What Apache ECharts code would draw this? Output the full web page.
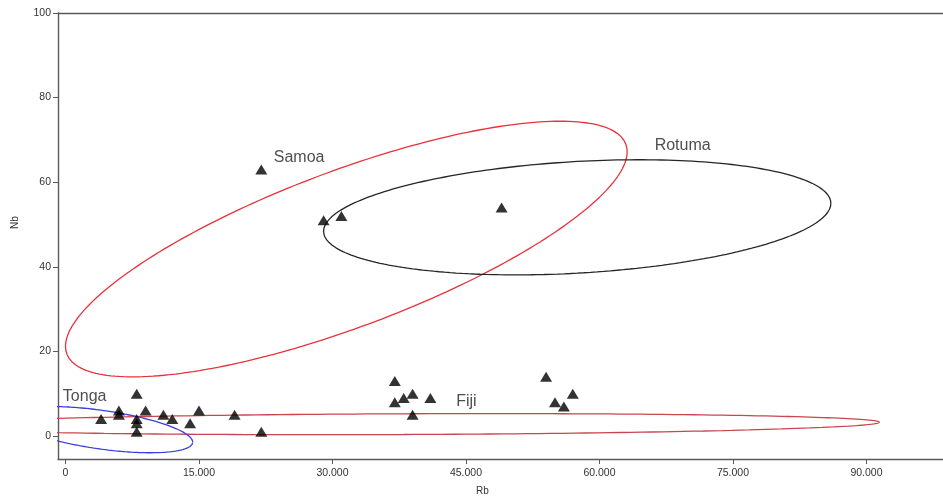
<!DOCTYPE html>
<html>
<head>
<meta charset="utf-8">
<script src="https://cdn.jsdelivr.net/npm/echarts@6/dist/echarts.min.js"></script>
<style>
html,body{margin:0;padding:0;background:#fff;}
#chart{width:943px;height:499px;}
</style>
</head>
<body>
<div id="chart"></div>
<script>
// ---- data ----
const rbValues = [4000, 6000, 6000, 8000, 8000, 8000, 8000, 9000, 11000, 12000, 14000, 15000, 19000, 22000,
                  37000, 37000, 38000, 39000, 39000, 41000, 54000, 55000, 56000, 57000,
                  22000, 29000, 31000, 49000];
const nbValues = [4, 5, 6, 10, 4, 3, 1, 6, 5, 4, 3, 6, 5, 1,
                  13, 8, 9, 10, 5, 9, 14, 8, 7, 10,
                  63, 51, 52, 54];

const xTicks = [0, 15000, 30000, 45000, 60000, 75000, 90000];
const yTicks = [0, 20, 40, 60, 80, 100];

// ellipses: centre, first conjugate semi-axis, second conjugate semi-axis (data units)
const ellipseNames   = ['Samoa', 'Rotuma', 'Fiji', 'Tonga'];
const ellipseCenterRb = [31555, 57500, 38000, 4000];
const ellipseCenterNb = [44.2, 51.7, 2.8, 1.5];
const ellipseURb      = [31555, 28500, 53500, 10300];
const ellipseUNb      = [23.0, 3.3, 0.45, -2.95];
const ellipseVRb      = [0, 0, 0, 0];
const ellipseVNb      = [19.6, 13.2, 2.45, 4.6];
const ellipseColors   = ['#e8323a', '#262626', '#c9464e', '#3b3fe0'];

const labelNames = ['Samoa', 'Rotuma', 'Fiji', 'Tonga'];
const labelRb    = [23400, 66200, 43900, -300];
const labelNb    = [65.8, 68.6, 8.1, 9.3];

// ---- build ----
function fmt(v) {
  const s = String(Math.round(v));
  return s.replace(/\B(?=(\d{3})+(?!\d))/g, '.');
}

function ellipsePoints(i) {
  const pts = [];
  const n = 240;
  for (let k = 0; k <= n; k++) {
    const t = 2 * Math.PI * k / n;
    pts.push([
      ellipseCenterRb[i] + ellipseURb[i] * Math.cos(t) + ellipseVRb[i] * Math.sin(t),
      ellipseCenterNb[i] + ellipseUNb[i] * Math.cos(t) + ellipseVNb[i] * Math.sin(t)
    ]);
  }
  return pts;
}

const ellipseSeries = ellipseNames.map((nm, i) => ({
  type: 'line',
  name: nm,
  data: ellipsePoints(i),
  showSymbol: false,
  symbol: 'none',
  clip: true,
  lineStyle: { color: ellipseColors[i], width: 1.3 },
  z: 2,
  silent: true
}));

const chart = echarts.init(document.getElementById('chart'), null, { renderer: 'canvas' });
const axisColor = '#5a5a5a';
const labelColor = '#333';

chart.setOption({
  animation: false,
  backgroundColor: '#fff',
  grid: { left: 58, right: 0, top: 13, bottom: 40, containLabel: false },
  xAxis: [{
    type: 'value',
    min: -843,
    max: 98600,
    axisLine: { show: true, onZero: false, lineStyle: { color: axisColor, width: 1.4 } },
    axisTick: { show: true, length: 5, customValues: xTicks, lineStyle: { color: axisColor } },
    axisLabel: { customValues: xTicks, formatter: fmt, color: labelColor, fontSize: 10.5, fontFamily: 'Liberation Sans', margin: 9 },
    splitLine: { show: false }
  }, {
    type: 'value',
    position: 'top',
    min: -843,
    max: 98600,
    axisLine: { show: true, onZero: false, lineStyle: { color: axisColor, width: 1.4 } },
    axisTick: { show: false },
    axisLabel: { show: false },
    splitLine: { show: false }
  }],
  yAxis: {
    type: 'value',
    min: -5.44,
    max: 100,
    axisLine: { show: true, onZero: false, lineStyle: { color: axisColor, width: 1.4 } },
    axisTick: { show: true, length: 5, customValues: yTicks, lineStyle: { color: axisColor } },
    axisLabel: { customValues: yTicks, color: labelColor, fontSize: 10.5, fontFamily: 'Liberation Sans', margin: 7 },
    splitLine: { show: false }
  },
  graphic: [
    { type: 'text', left: 476, top: 486, style: { text: 'Rb', fill: labelColor, font: '10px Liberation Sans' } },
    { type: 'text', x: 10, y: 229, rotation: Math.PI / 2, style: { text: 'Nb', fill: labelColor, font: '10px Liberation Sans' } }
  ],
  series: [
    ...ellipseSeries,
    {
      type: 'scatter',
      data: rbValues.map((x, i) => [x, nbValues[i]]),
      symbol: 'triangle',
      symbolSize: [12, 10],
      itemStyle: { color: '#000' },
      z: 5,
      silent: true
    },
    {
      type: 'scatter',
      data: labelNames.map((n, i) => ({ value: [labelRb[i], labelNb[i]], name: n })),
      symbolSize: 0,
      label: {
        show: true,
        position: [0, 0],
        align: 'left',
        verticalAlign: 'middle',
        formatter: p => p.name,
        color: '#222',
        fontSize: 16,
        fontFamily: 'Liberation Sans'
      },
      z: 6,
      silent: true
    }
  ]
});
</script>
</body>
</html>
